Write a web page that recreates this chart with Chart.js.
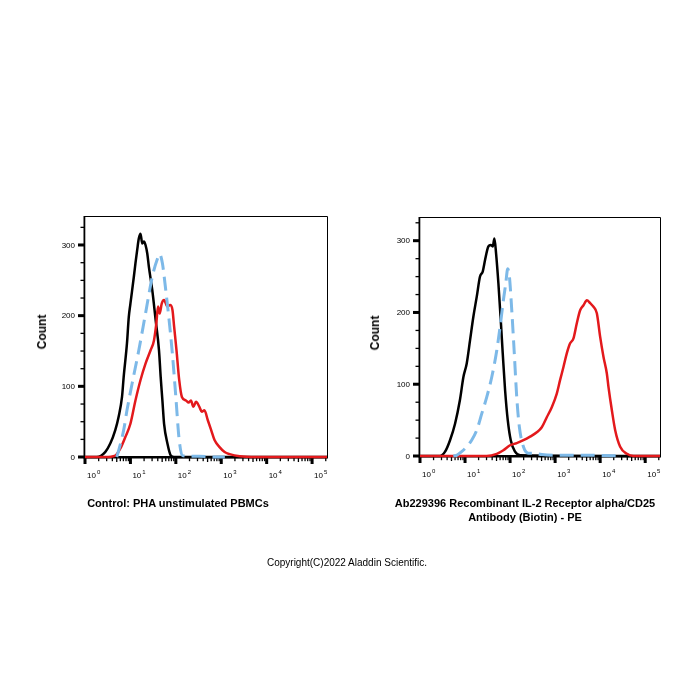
<!DOCTYPE html>
<html><head><meta charset="utf-8">
<script src="https://cdn.jsdelivr.net/npm/chart.js@4/dist/chart.umd.min.js"></script>
<style>
html,body{margin:0;padding:0;background:#fff;}
#wrap{position:relative;width:700px;height:700px;overflow:hidden;font-family:"Liberation Sans",Arial,sans-serif;color:#000;}
canvas{position:absolute;top:0;}
.t{position:absolute;white-space:nowrap;text-align:center;}
.cnt{position:absolute;white-space:nowrap;font-weight:bold;font-size:12px;transform:translate(-50%,-50%) rotate(-90deg);}
</style></head><body>
<div id="wrap">
<canvas id="c1" width="350" height="700" style="left:0"></canvas>
<canvas id="c2" width="350" height="700" style="left:350px"></canvas>
<div class="cnt" style="left:42px;top:332px">Count</div>
<div class="cnt" style="left:375px;top:333px">Count</div>
<div class="t" style="left:28px;top:496px;width:300px;font-weight:bold;font-size:11px;line-height:14px">Control: PHA unstimulated PBMCs</div>
<div class="t" style="left:375px;top:496px;width:300px;font-weight:bold;font-size:11px;line-height:14px">Ab229396 Recombinant IL-2 Receptor alpha/CD25<br>Antibody (Biotin) - PE</div>
<div class="t" style="left:197px;top:556px;width:300px;font-size:10px;line-height:14px">Copyright(C)2022 Aladdin Scientific.</div>
</div>
<script>
// ---- data (fluorescence intensity x, count y) ----
const leftBlackX = [1, 1.82, 2.78, 3.6, 4.64, 5.5, 6.53, 7.1, 8.4, 9.2, 10, 11.9, 12.9, 14.1, 15.3, 16.7, 18.2, 19.8, 21.5, 23.5, 25.5, 30.3, 35.9, 42.6, 46.4, 50.6, 55.1, 65.3, 77.4, 91.8, 213000];
const leftBlackY = [0, 0, 7, 19, 38, 57, 85, 113, 161, 198, 217, 255, 274, 293, 309, 316, 302, 305, 300, 288, 269, 236, 194, 151, 113, 80, 47, 19, 2, 0, 0];
const leftBlueX = [5, 5.5, 7.1, 8.4, 10.9, 15.3, 21.5, 30.3, 39.2, 44.1, 50.6, 60, 71, 84, 100, 118.6, 140.6, 198, 330, 653, 1200];
const leftBlueY = [0, 9, 38, 66, 104, 151, 203, 255, 280, 287, 274, 236, 194, 146, 85, 24, 2, 1, 1, 0, 0];
const leftRedX = [1, 2.78, 4.64, 6, 7.7, 10, 12.9, 16.7, 21.5, 27.8, 33, 37.2, 40.5, 44.1, 48.9, 55.1, 65.3, 74.8, 84.3, 91.8, 103.5, 118.6, 136, 167, 191, 215, 243, 278, 330, 372, 426, 506, 600, 711, 918, 1186, 1531, 2555, 6000, 213000];
const leftRedY = [0, 0, 2, 12, 28, 47, 80, 109, 132, 151, 165, 189, 213, 203, 217, 222, 213, 215, 208, 184, 151, 109, 85, 80, 77, 80, 71, 78, 71, 64, 66, 52, 38, 24, 14, 7, 4, 1, 0, 0];

const rightBlackX = [1, 2.78, 3.6, 4.64, 6, 7.7, 9.2, 10.9, 12.9, 15.3, 18.2, 21.5, 24.7, 27.8, 33, 37.2, 41.2, 44.9, 48.9, 55.1, 62.1, 68.7, 77.4, 88.8, 103.5, 129, 167, 213000];
const rightBlackY = [0, 0, 6, 22, 45, 78, 110, 129, 161, 194, 222, 250, 257, 273, 292, 294, 292, 303, 282, 240, 189, 143, 92, 50, 22, 6, 1, 0];
const rightBlueX = [5.5, 6.5, 8.4, 10.9, 14, 18.2, 23.5, 30.3, 39.2, 50.6, 60, 71, 80, 88.8, 96.6, 109, 123, 140.6, 161, 198, 255, 330, 506, 1291, 7110, 30000];
const rightBlueY = [0, 1, 6, 13, 22, 36, 59, 82, 110, 147, 180, 217, 240, 261, 250, 203, 147, 82, 40, 13, 4, 4, 2, 1, 1, 0];
const rightRedX = [1, 30.3, 50.6, 71, 100, 140.6, 198, 278, 392, 506, 653, 843, 1089, 1291, 1531, 1815, 2154, 2555, 3030, 3594, 4264, 5058, 6000, 7110, 8434, 10000, 11860, 14060, 15310, 18150, 21540, 27800, 39200, 55100, 213000];
const rightRedY = [0, 0, 3, 8, 15, 18, 22, 27, 33, 40, 54, 68, 87, 106, 124, 143, 157, 164, 185, 203, 210, 217, 213, 208, 199, 166, 138, 115, 96, 64, 36, 13, 3, 0, 0];

// ---- axes ----
const xMin = 1, xMax = 213000;
const leftYMax = 341, rightYMax = 333;
const xDecadeExponents = ['0', '1', '2', '3', '4', '5'];
const xMinorMultipliers = [2, 3, 4, 5, 6, 7, 8, 9];
const yMajorTicks = [0, 100, 200, 300];
const yTickLabels = ['0', '100', '200', '300'];
const yMinorTicks = [25, 50, 75, 125, 150, 175, 225, 250, 275, 325];

const FONT = '"Liberation Sans", Arial, sans-serif';

function pts(xs, ys) { return xs.map((v, i) => ({x: v, y: ys[i]})); }

const flowAxes = {
  id: 'flowAxes',
  beforeDatasetsDraw(chart) {
    const {ctx, chartArea: a, scales: {x, y}} = chart;
    ctx.save();
    ctx.fillStyle = '#000';
    ctx.strokeStyle = '#000';
    ctx.lineWidth = 1;
    ctx.beginPath();
    ctx.moveTo(a.left, a.top + 0.5);
    ctx.lineTo(a.right + 0.5, a.top + 0.5);
    ctx.lineTo(a.right + 0.5, a.bottom);
    ctx.stroke();
    ctx.fillRect(a.left - 1.5, a.top, 1.8, a.bottom - a.top + 1);
    ctx.fillRect(a.left - 1.5, a.bottom - 1, a.right - a.left + 2.5, 2.5);
    yMinorTicks.forEach(v => {
      if (v <= y.max) { const p = y.getPixelForValue(v); ctx.fillRect(a.left - 4.5, p - 0.6, 3.5, 1.3); }
    });
    yMajorTicks.forEach(v => { const p = y.getPixelForValue(v); ctx.fillRect(a.left - 7, p - 1.5, 6, 3); });
    ctx.font = '8px ' + FONT;
    ctx.textAlign = 'right';
    ctx.textBaseline = 'middle';
    yMajorTicks.forEach((v, i) => ctx.fillText(yTickLabels[i], a.left - 10, y.getPixelForValue(v) + 0.5));
    xDecadeExponents.forEach((e, k) => {
      const dec = Math.pow(10, k);
      const px = x.getPixelForValue(dec);
      ctx.fillRect(px - 1.5, a.bottom + 1, 3, 6);
      xMinorMultipliers.forEach(m => {
        const v = m * dec;
        if (v < x.max) { const q = x.getPixelForValue(v); ctx.fillRect(q - 0.65, a.bottom + 1, 1.3, m === 5 ? 4 : 3.2); }
      });
      ctx.textAlign = 'left';
      ctx.textBaseline = 'alphabetic';
      ctx.font = '8px ' + FONT;
      const bx = px + 2;
      ctx.fillText('10', bx, a.bottom + 21);
      const w = ctx.measureText('10').width;
      ctx.font = '6px ' + FONT;
      ctx.fillText(e, bx + w + 1, a.bottom + 16.5);
    });
    ctx.restore();
  }
};

function makeChart(id, pad, yMax, bx, by, bux, buy, rx, ry) {
  return new Chart(document.getElementById(id), {
    type: 'line',
    data: {
      datasets: [
        {data: pts(bux, buy), borderColor: '#7db9e8', borderWidth: 3, borderDash: [14, 7], borderCapStyle: 'butt'},
        {data: pts(rx, ry), borderColor: '#e3191c', borderWidth: 2.5},
        {data: pts(bx, by), borderColor: '#000000', borderWidth: 2.5}
      ]
    },
    options: {
      responsive: false,
      animation: false,
      events: [],
      layout: {padding: pad},
      elements: {point: {radius: 0}, line: {cubicInterpolationMode: 'monotone', fill: false, borderJoinStyle: 'round'}},
      datasets: {line: {clip: false}},
      plugins: {legend: {display: false}, tooltip: {enabled: false}},
      scales: {
        x: {type: 'logarithmic', min: xMin, max: xMax,
            grid: {display: false, drawTicks: false}, border: {display: false}, ticks: {display: false}},
        y: {type: 'linear', min: 0, max: yMax,
            grid: {display: false, drawTicks: false}, border: {display: false}, ticks: {display: false}}
      }
    },
    plugins: [flowAxes]
  });
}

makeChart('c1', {left: 85, right: 23, top: 216, bottom: 243}, leftYMax,
  leftBlackX, leftBlackY, leftBlueX, leftBlueY, leftRedX, leftRedY);
makeChart('c2', {left: 70, right: 40, top: 217, bottom: 244}, rightYMax,
  rightBlackX, rightBlackY, rightBlueX, rightBlueY, rightRedX, rightRedY);
</script>
</body></html>
